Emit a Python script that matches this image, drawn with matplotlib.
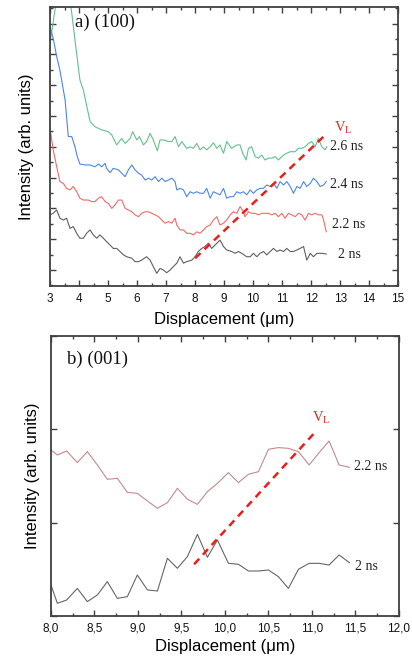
import matplotlib
matplotlib.use("Agg")
import matplotlib.pyplot as plt
from matplotlib.ticker import MultipleLocator, FixedLocator, FuncFormatter

plt.rcParams["mathtext.fontset"] = "custom"

# ---------------- Panel a) (100) ----------------
a_x_26 = [3.00, 3.17, 3.25, 3.45, 3.69, 3.75, 3.86, 4.03, 4.15, 4.38, 4.55, 4.78, 5.01, 5.13, 5.30, 5.47, 5.59,
          5.76, 5.85, 5.99, 6.08, 6.22, 6.33, 6.45, 6.56, 6.70, 6.79, 6.93, 7.08, 7.20, 7.31, 7.43, 7.54, 7.71,
          7.83, 7.94, 8.06, 8.17, 8.29, 8.40, 8.52, 8.63, 8.75, 8.86, 8.98, 9.09, 9.26, 9.44, 9.55, 9.64, 9.76,
          9.84, 9.95, 10.07, 10.18, 10.30, 10.41, 10.53, 10.64, 10.76, 10.87, 11.05, 11.16, 11.28, 11.45, 11.56,
          11.68, 11.79, 11.91, 12.02, 12.14, 12.25, 12.37, 12.48, 12.54]
a_y_26 = [7.36, 8.44, 8.77, 9.60, 8.77, 8.33, 7.47, 6.17, 5.84, 4.82, 4.65, 4.55, 4.49, 4.38, 4.06, 4.27, 4.11,
          4.27, 4.49, 4.22, 4.33, 4.06, 4.17, 4.44, 4.22, 3.87, 4.22, 4.22, 4.17, 4.17, 4.33, 4.00, 4.17, 3.95,
          4.00, 3.95, 4.11, 3.90, 4.00, 3.90, 4.00, 4.13, 3.95, 4.06, 3.79, 4.17, 3.95, 4.06, 4.06, 3.79, 3.57,
          3.95, 4.00, 3.68, 3.63, 3.73, 3.57, 3.63, 3.63, 3.68, 3.57, 3.73, 3.79, 3.84, 3.84, 3.95,
          3.95, 4.00, 4.11, 4.17, 4.00, 4.27, 4.00, 3.90, 4.00]

a_x_24 = [3.00, 3.11, 3.23, 3.34, 3.52, 3.63, 3.75, 3.86, 3.94, 4.03, 4.21, 4.38, 4.55, 4.67, 4.78, 4.90, 4.95,
          5.07, 5.18, 5.36, 5.47, 5.59, 5.70, 5.82, 5.93, 6.05, 6.16, 6.28, 6.39, 6.51, 6.62, 6.74, 6.85, 6.97,
          7.08, 7.20, 7.31, 7.37, 7.48, 7.60, 7.71, 7.83, 7.94, 8.06, 8.17, 8.29, 8.40, 8.52, 8.63, 8.75, 8.86,
          8.98, 9.09, 9.21, 9.32, 9.44, 9.55, 9.67, 9.78, 9.90, 10.01, 10.13, 10.24, 10.36, 10.47, 10.59, 10.70,
          10.82, 10.93, 11.05, 11.16, 11.28, 11.39, 11.51, 11.62, 11.74, 11.85, 11.97, 12.08, 12.20, 12.31,
          12.43, 12.52]
a_y_24 = [7.90, 7.52, 6.93, 6.49, 5.52, 4.33, 4.33, 4.00, 3.68, 3.44, 3.41, 3.41, 3.35, 3.44, 3.35, 3.46, 3.30,
          3.16, 3.30, 3.25, 3.14, 3.03, 3.25, 3.41, 3.25, 3.14, 3.08, 2.92, 2.98, 2.92, 3.03, 2.87, 2.98, 2.87,
          2.92, 2.98, 2.87, 2.60, 2.65, 2.60, 2.38, 2.54, 2.49, 2.54, 2.49, 2.49, 2.65, 2.33, 2.54, 2.49, 2.44,
          2.65, 2.33, 2.38, 2.38, 2.54, 2.49, 2.54, 2.44, 2.60, 2.49, 2.60, 2.65, 2.65, 2.76, 2.71, 2.81,
          2.65, 2.87, 2.76, 2.87, 2.71, 2.49, 2.71, 2.65, 2.87, 2.71, 2.81, 2.98, 2.87, 2.71,
          2.76, 2.87]

a_x_22 = [3.00, 3.11, 3.23, 3.34, 3.46, 3.57, 3.69, 3.80, 3.92, 4.03, 4.15, 4.32, 4.44, 4.55, 4.67, 4.78, 4.90,
          5.01, 5.13, 5.24, 5.36, 5.47, 5.59, 5.70, 5.82, 5.93, 6.05, 6.16, 6.28, 6.39, 6.51, 6.62, 6.74, 6.85,
          6.97, 7.08, 7.20, 7.31, 7.37, 7.48, 7.60, 7.71, 7.83, 7.94, 8.06, 8.17, 8.29, 8.40, 8.52, 8.63, 8.75,
          8.86, 8.98, 9.09, 9.21, 9.32, 9.44, 9.55, 9.67, 9.72, 9.84, 9.95, 10.07, 10.18, 10.30, 10.41, 10.53,
          10.64, 10.76, 10.87, 10.99, 11.10, 11.22, 11.33, 11.45, 11.56, 11.68, 11.79, 11.91, 12.02, 12.14,
          12.25, 12.37, 12.43, 12.52]
a_y_22 = [4.60, 3.90, 3.35, 2.87, 2.81, 2.65, 2.60, 2.71, 2.54, 2.33, 2.27, 2.27, 2.22, 2.22, 2.33, 2.38, 2.22,
          2.16, 2.00, 2.11, 2.27, 2.27, 2.00, 1.95, 1.89, 1.79, 1.73, 1.84, 1.89, 1.89, 1.84, 1.79, 1.73, 1.62,
          1.52, 1.57, 1.52, 1.68, 1.46, 1.30, 1.30, 1.19, 1.19, 1.14, 1.24, 1.19, 1.30, 1.41, 1.46, 1.62, 1.73,
          1.46, 1.52, 1.62, 1.79, 1.89, 1.84, 2.06, 1.89, 1.73, 1.89, 1.84, 1.84, 1.79, 1.84, 1.84, 1.84,
          1.79, 1.84, 1.73, 1.84, 1.68, 1.84, 1.79, 1.73, 1.84, 1.79, 1.62, 1.84, 1.79, 1.84,
          1.79, 1.79, 1.62, 1.24]

a_x_20 = [3.00, 3.11, 3.23, 3.34, 3.46, 3.57, 3.69, 3.80, 3.92, 4.03, 4.15, 4.26, 4.38, 4.49, 4.61, 4.72, 4.84,
          4.95, 5.07, 5.18, 5.30, 5.41, 5.53, 5.64, 5.82, 5.93, 6.05, 6.16, 6.33, 6.45, 6.56, 6.68, 6.79, 6.91,
          7.02, 7.14, 7.25, 7.37, 7.48, 7.60, 7.71, 7.89, 8.00, 8.11, 8.23, 8.34, 8.46, 8.57, 8.69, 8.86, 8.98,
          9.09, 9.26, 9.38, 9.49, 9.61, 9.78, 9.90, 10.01, 10.13, 10.24, 10.36, 10.47, 10.59, 10.70, 10.82,
          10.93, 11.05, 11.16, 11.28, 11.39, 11.51, 11.62, 11.74, 11.85, 11.97, 12.08, 12.20, 12.37, 12.52]
a_y_20 = [1.79, 1.84, 1.95, 1.68, 1.62, 1.68, 1.35, 1.41, 1.19, 1.03, 1.03, 1.19, 1.30, 1.14, 1.03, 1.14, 1.03,
          0.92, 0.81, 0.70, 0.70, 0.60, 0.49, 0.43, 0.38, 0.27, 0.27, 0.32, 0.43, 0.32, 0.11, -0.11, 0.05, 0.00,
          -0.09, 0.00, 0.11, 0.22, 0.43, 0.22, 0.27, 0.32, 0.43, 0.60, 0.70, 0.76, 0.87, 0.70, 0.81, 0.97, 0.76,
          0.65, 0.60, 0.54, 0.60, 0.54, 0.43, 0.43, 0.54, 0.43, 0.54, 0.60, 0.49, 0.60, 0.70, 0.60,
          0.65, 0.60, 0.70, 0.60, 0.60, 0.65, 0.70, 0.76, 0.32, 0.54, 0.43, 0.54, 0.54, 0.52]

a_vl_x = [8.00, 12.43]
a_vl_y = [0.38, 4.33]
a_labels = ["2.6 ns", "2.4 ns", "2.2 ns", "2 ns"]
a_label_x = [12.66, 12.66, 12.72, 12.92]
a_label_y = [4.00, 2.79, 1.49, 0.49]
a_xticks = list(range(3, 16))

# ---------------- Panel b) (001) ----------------
b_x = [8.000, 8.073, 8.180, 8.303, 8.418, 8.533, 8.648, 8.763, 8.878, 8.993, 9.109, 9.224, 9.339, 9.454,
       9.569, 9.684, 9.799, 9.914, 10.041, 10.156, 10.271, 10.386, 10.501, 10.616, 10.731, 10.846, 10.969,
       11.084, 11.199, 11.314, 11.433]
b_y_22 = [1.779, 1.725, 1.768, 1.643, 1.761, 1.618, 1.464, 1.475, 1.325, 1.314, 1.232, 1.154, 1.214, 1.368,
          1.250, 1.196, 1.332, 1.421, 1.536, 1.429, 1.518, 1.546, 1.786, 1.804, 1.796, 1.761, 1.618,
          1.750, 1.875, 1.618, 1.593]
b_y_20 = [0.332, 0.136, 0.171, 0.296, 0.154, 0.225, 0.368, 0.189, 0.207, 0.439, 0.279, 0.268, 0.618, 0.511,
          0.636, 0.875, 0.629, 0.814, 0.564, 0.554, 0.482, 0.482, 0.493, 0.421, 0.296, 0.500, 0.564,
          0.564, 0.546, 0.654, 0.571]
b_vl_x = [9.646, 11.026]
b_vl_y = [0.554, 1.957]
b_labels = ["2.2 ns", "2 ns"]
b_label_x = [11.48, 11.50]
b_label_y = [1.60, 0.53]

SANS = "Liberation Sans"
SERIF = "Liberation Serif"
SPINE = "#404040"

fig = plt.figure(figsize=(4.12, 6.62), dpi=100)
ax1 = fig.add_axes([0.1214, 0.568, 0.845, 0.4215])
ax2 = fig.add_axes([0.1238, 0.0695, 0.844, 0.423])

def style(ax):
    for s in ax.spines.values():
        s.set_color(SPINE)
        s.set_linewidth(1.3)
    ax.tick_params(which="both", direction="in", top=True, right=True, color=SPINE, width=1.0)
    ax.tick_params(which="major", length=4.5)
    ax.tick_params(which="minor", length=2.5)
    ax.tick_params(axis="x", labelsize=8.5, pad=5, labelcolor="#111111")
    ax.tick_params(axis="y", labelleft=False)
    for lab in ax.get_xticklabels():
        lab.set_fontfamily(SANS)

# Panel a
ax1.plot(a_x_26, a_y_26, color="#64c08c", lw=0.8)
ax1.plot(a_x_24, a_y_24, color="#4c86e2", lw=0.8)
ax1.plot(a_x_22, a_y_22, color="#f06a6a", lw=0.8)
ax1.plot(a_x_20, a_y_20, color="#606060", lw=0.8)
ax1.plot(a_vl_x, a_vl_y, color="#ee1c1c", lw=1.8, ls=(0, (3, 2.2)))
ax1.set_xlim(3, 15)
ax1.set_ylim(-0.52, 8.54)
ax1.xaxis.set_major_locator(FixedLocator(a_xticks))
ax1.xaxis.set_minor_locator(MultipleLocator(0.5))
ax1.yaxis.set_major_locator(MultipleLocator(1))
ax1.yaxis.set_minor_locator(MultipleLocator(0.5))
style(ax1)
ax1.set_xlabel("Displacement (\u03bcm)", fontfamily=SANS, fontsize=12, labelpad=5)
ax1.set_ylabel("Intensity (arb. units)", fontfamily=SANS, fontsize=12, labelpad=8)
for t, x, y in zip(a_labels, a_label_x, a_label_y):
    ax1.text(x, y, t, fontfamily=SERIF, fontsize=10, va="center", ha="left", color="#222222")
ax1.text(12.8, 4.61, "V$_\\mathregular{L}$", fontfamily=SERIF, fontsize=10.5, color="#ee2222", va="center", ha="left")
ax1.text(0.072, 0.945, "a) (100)", transform=ax1.transAxes, fontfamily=SERIF, fontsize=13.5,
         va="center", ha="left", color="#111111")

# Panel b
ax2.plot(b_x, b_y_22, color="#c48a8a", lw=0.8)
ax2.plot(b_x, b_y_20, color="#666666", lw=0.8)
ax2.plot(b_vl_x, b_vl_y, color="#ee1c1c", lw=1.8, ls=(0, (3, 2.2)))
ax2.set_xlim(8, 12)
ax2.set_ylim(0, 3)
ax2.xaxis.set_major_locator(MultipleLocator(0.5))
ax2.xaxis.set_minor_locator(MultipleLocator(0.25))
ax2.xaxis.set_major_formatter(FuncFormatter(lambda v, p: f"{v:.1f}".replace(".", ",")))
ax2.yaxis.set_major_locator(MultipleLocator(1))
style(ax2)
ax2.set_xlabel("Displacement (\u03bcm)", fontfamily=SANS, fontsize=12, labelpad=3)
ax2.set_ylabel("Intensity (arb. units)", fontfamily=SANS, fontsize=12, labelpad=8)
for t, x, y in zip(b_labels, b_label_x, b_label_y):
    ax2.text(x, y, t, fontfamily=SERIF, fontsize=10, va="center", ha="left", color="#222222")
ax2.text(11.0, 2.12, "V$_\\mathregular{L}$", fontfamily=SERIF, fontsize=10.5, color="#ee2222", va="center", ha="left")
ax2.text(0.045, 0.915, "b) (001)", transform=ax2.transAxes, fontfamily=SERIF, fontsize=13.5,
         va="center", ha="left", color="#111111")

fig.savefig("out.png", dpi=100)
